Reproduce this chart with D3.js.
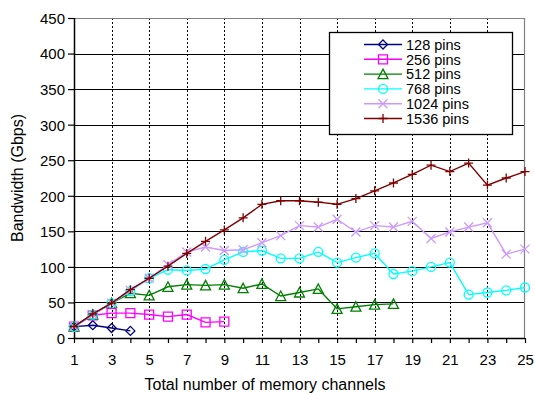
<!DOCTYPE html>
<html>
<head>
<meta charset="utf-8">
<script src="https://cdn.jsdelivr.net/npm/d3@7"></script>
<style>
  body { margin: 0; background: #fff; }
  svg { display: block; font-family: "Liberation Sans", Arial, sans-serif; }
</style>
</head>
<body>
<svg class="chart" width="535" height="393"></svg>
<script>
// x categories
const channels = [1, 2, 3, 4, 5, 6, 7, 8, 9, 10, 11, 12, 13, 14, 15, 16, 17, 18, 19, 20, 21, 22, 23, 24, 25]
const xTickLabels = [1, 3, 5, 7, 9, 11, 13, 15, 17, 19, 21, 23, 25]
const yTicks = [0, 50, 100, 150, 200, 250, 300, 350, 400, 450]

// series values (Gbps), one per channel count starting at 1
const pins128 = [16, 18, 14, 10]
const pins256 = [16, 32, 35, 35, 33, 30, 33, 22, 23]
const pins512 = [16, 33, 49, 63, 60, 72, 75, 74, 75, 70, 76, 59, 64, 69, 41, 44, 47, 48]
const pins768 = [16, 33, 49, 66, 84, 96, 95, 97, 110, 121, 123, 112, 112, 121, 106, 113, 119, 90, 94, 100, 106, 61, 64, 67, 71]
const pins1024 = [16, 33, 49, 67, 84, 103, 121, 128, 123, 124, 134, 144, 158, 156, 167, 149, 158, 156, 164, 140, 149, 156, 162, 118, 125]
const pins1536 = [16, 34, 49, 68, 84, 101, 119, 136, 152, 169, 188, 193, 193, 191, 188, 196, 207, 218, 230, 243, 234, 246, 215, 225, 234]

const seriesNames = ["128 pins", "256 pins", "512 pins", "768 pins", "1024 pins", "1536 pins"]
const seriesColors = ["#000080", "#ff00ff", "#008000", "#00ffff", "#cc99ff", "#800000"]
const seriesMarkers = ["diamond", "square", "triangle", "circle", "cross", "plus"]

const FONT = "'Liberation Sans', Arial, sans-serif"

drawChart()

function drawChart(){
  var svg = d3.select(".chart")
  var margin = {top: 18, right: 10, bottom: 55, left: 74}
  var width = +svg.attr("width")
  var height = +svg.attr("height")
  var x0 = margin.left, x1 = width - margin.right
  var y0 = height - margin.bottom, y1 = margin.top

  var x = d3.scaleLinear().domain([1, 25]).range([x0, x1])
  var y = d3.scaleLinear().domain([0, 450]).range([y0, y1])

  var allSeries = [pins128, pins256, pins512, pins768, pins1024, pins1536]

  // horizontal grid lines
  svg.append("g")
    .selectAll("line")
    .data(yTicks.filter(d => d > 0 && d < 450))
    .enter()
    .append("line")
      .attr("x1", x0).attr("x2", x1)
      .attr("y1", d => Math.round(y(d)) + 0.5)
      .attr("y2", d => Math.round(y(d)) + 0.5)
      .attr("stroke", "#000")
      .attr("stroke-width", 1.2)

  // vertical dotted grid lines at odd channels
  svg.append("g")
    .selectAll("line")
    .data(xTickLabels.filter(d => d > 1 && d < 25))
    .enter()
    .append("line")
      .attr("x1", d => Math.round(x(d)) + 0.5)
      .attr("x2", d => Math.round(x(d)) + 0.5)
      .attr("y1", y1).attr("y2", y0)
      .attr("stroke", "#000")
      .attr("stroke-dasharray", "2,2")

  // top and right border
  svg.append("path")
    .attr("d", `M${x0},${y1 + 0.5}H${x1 - 0.5}V${y0}`)
    .attr("fill", "none")
    .attr("stroke", "#808080")
    .attr("stroke-width", 1.2)

  // x axis
  var xAxis = d3.axisBottom(x)
    .tickValues(channels)
    .tickSize(5)
    .tickFormat(d => xTickLabels.includes(d) ? d : "")
  var gx = svg.append("g")
    .attr("transform", `translate(0,${y0})`)
    .attr("font-family", FONT)
    .call(xAxis)
  gx.select(".domain").attr("stroke", "#000").attr("stroke-width", 1.5).attr("d", `M${x0},0.5H${x1}`)
  gx.selectAll(".tick line").attr("stroke", "#000").attr("stroke-width", 1.2)
  gx.selectAll(".tick text")
    .attr("font-size", "15px")
    .attr("font-family", FONT)
    .attr("fill", "#000")
    .attr("dy", "0")
    .attr("y", 27)

  // y axis
  var yAxis = d3.axisLeft(y)
    .tickValues(yTicks)
    .tickSize(6)
  var gy = svg.append("g")
    .attr("transform", `translate(${x0},0)`)
    .attr("font-family", FONT)
    .call(yAxis)
  gy.select(".domain").attr("stroke", "#000").attr("stroke-width", 1.5).attr("d", `M0.5,${y1}V${y0}`)
  gy.selectAll(".tick line").attr("stroke", "#000").attr("stroke-width", 1.2)
  gy.selectAll(".tick text")
    .attr("font-size", "15px")
    .attr("font-family", FONT)
    .attr("fill", "#000")
    .attr("x", -9)
    .attr("dy", "0.36em")

  // axis titles (centred on the chart area, as in the original)
  svg.append("text")
    .attr("x", 265)
    .attr("y", 390)
    .attr("text-anchor", "middle")
    .attr("font-family", FONT)
    .attr("font-size", "16px")
    .text("Total number of memory channels")

  svg.append("text")
    .attr("transform", `translate(23,${(y0 + y1) / 2}) rotate(-90)`)
    .attr("text-anchor", "middle")
    .attr("font-family", FONT)
    .attr("font-size", "16px")
    .text("Bandwidth (Gbps)")

  // series lines and markers
  var line = d3.line()
    .x((d, i) => x(channels[i]))
    .y(d => y(d))

  allSeries.forEach(function(values, s){
    var g = svg.append("g")
    g.append("path")
      .datum(values)
      .attr("d", line)
      .attr("fill", "none")
      .attr("stroke", seriesColors[s])
      .attr("stroke-width", 1.4)

    g.selectAll("path.mk")
      .data(values)
      .enter()
      .append("path")
        .attr("class", "mk")
        .attr("transform", (d, i) => `translate(${x(channels[i])},${y(d)})`)
        .attr("d", markerPath(seriesMarkers[s]))
        .attr("fill", "none")
        .attr("stroke", seriesColors[s])
        .attr("stroke-width", 1.3)
  })

  // legend
  var legend = svg.append("g")
  legend.append("rect")
    .attr("x", 329.5).attr("y", 32.5)
    .attr("width", 183).attr("height", 102)
    .attr("fill", "#fff")
    .attr("stroke", "#000")
    .attr("stroke-width", 1.3)

  seriesNames.forEach(function(name, i){
    var cy = 44.5 + i * 14.8
    legend.append("line")
      .attr("x1", 364).attr("x2", 402)
      .attr("y1", cy).attr("y2", cy)
      .attr("stroke", seriesColors[i])
      .attr("stroke-width", 1.4)
    legend.append("path")
      .attr("transform", `translate(383,${cy})`)
      .attr("d", markerPath(seriesMarkers[i]))
      .attr("fill", "none")
      .attr("stroke", seriesColors[i])
      .attr("stroke-width", 1.3)
    legend.append("text")
      .attr("x", 406)
      .attr("y", cy + 5.2)
      .attr("font-family", FONT)
      .attr("font-size", "14.5px")
      .attr("fill", "#000")
      .text(name)
  })
}

/*
Marker shapes centred on 0,0
*/
function markerPath(kind){
  var r = 4.5
  if (kind == "diamond") return `M0,${-r}L${r},0L0,${r}L${-r},0Z`
  if (kind == "square") return `M${-r},${-r}H${r}V${r}H${-r}Z`
  if (kind == "triangle") return `M0,${-r - 0.5}L${r + 0.5},${r}L${-r - 0.5},${r}Z`
  if (kind == "circle") return `M${r},0A${r},${r} 0 1,1 ${-r},0A${r},${r} 0 1,1 ${r},0`
  if (kind == "cross") return `M${-r},${-r}L${r},${r}M${-r},${r}L${r},${-r}`
  return `M${-r},0H${r}M0,${-r}V${r}`
}
</script>
</body>
</html>
